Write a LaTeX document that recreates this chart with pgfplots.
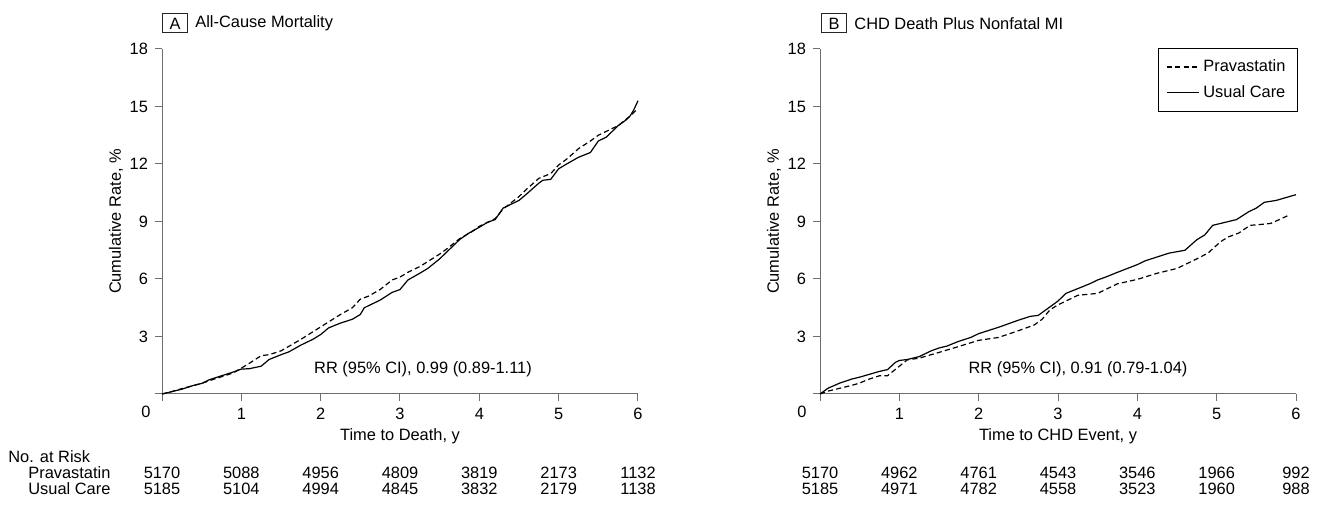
\documentclass[border=0pt]{standalone}
\usepackage{fontspec}
\setmainfont{Liberation Sans}
\usepackage{pgfplots}
\pgfplotsset{compat=1.18}
\newcommand{\fs}{\fontsize{8.2}{9.8}\selectfont}
\definecolor{axisgray}{RGB}{110,110,110}

\pgfplotsset{
  kmstyle/.style={
    width=238pt, height=172.5pt, scale only axis,
    anchor=south west,
    xmin=0, xmax=6, ymin=0, ymax=18,
    axis lines*=left,
    axis line style={axisgray, line width=0.5pt, -},
    xtick={0,...,6}, xticklabels={,1,2,3,4,5,6},
    ytick={0,3,...,18}, yticklabels={,3,6,9,12,15,18},
    tick align=outside, major tick length=3.5pt,
    tick style={axisgray, line width=0.5pt},
    tick label style={font=\fs},
    /pgf/number format/assume math mode=true,
    clip=false,
  },
  pravast/.style={black, line width=0.6pt, dash pattern=on 2.6pt off 1.6pt},
  usual/.style={black, line width=0.6pt},
}

\begin{document}
\begin{tikzpicture}
\path[use as bounding box] (0,0) rectangle (660pt,254pt);

% ---------- panel A ----------
\begin{axis}[kmstyle, at={(81pt,57pt)}]
\addplot[pravast] coordinates {
 (0,0) (0.1,0.1) (0.25,0.28) (0.4,0.45) (0.5,0.55) (0.6,0.7) (0.75,0.9) (0.9,1.1)
 (1.0,1.35) (1.1,1.6) (1.25,2.0) (1.35,2.05) (1.5,2.25) (1.75,2.85) (2.0,3.5)
 (2.25,4.15) (2.4,4.5) (2.5,4.95) (2.6,5.1) (2.75,5.45) (2.9,5.95) (3.0,6.1)
 (3.1,6.35) (3.25,6.65) (3.5,7.3) (3.6,7.6) (3.75,8.1) (3.9,8.45) (4.0,8.75)
 (4.1,8.95) (4.2,9.15) (4.3,9.65) (4.5,10.3) (4.6,10.7) (4.75,11.25) (4.9,11.5)
 (5.0,11.95) (5.1,12.25) (5.25,12.8) (5.4,13.2) (5.5,13.5) (5.6,13.7) (5.75,14.0)
 (5.9,14.5) (6.0,14.9)
};
\addplot[usual] coordinates {
 (0,0) (0.1,0.1) (0.25,0.25) (0.4,0.45) (0.5,0.55) (0.6,0.75) (0.75,0.95) (0.9,1.15)
 (1.0,1.3) (1.1,1.32) (1.25,1.45) (1.35,1.8) (1.5,2.05) (1.6,2.2) (1.75,2.55)
 (1.9,2.85) (2.0,3.1) (2.1,3.45) (2.25,3.7) (2.4,3.9) (2.5,4.15) (2.55,4.5)
 (2.75,4.9) (2.9,5.3) (3.0,5.45) (3.1,5.95) (3.25,6.3) (3.35,6.55) (3.5,7.05)
 (3.6,7.45) (3.75,8.05) (3.85,8.35) (4.0,8.7) (4.1,8.95) (4.2,9.1) (4.3,9.7)
 (4.4,9.9) (4.5,10.1) (4.6,10.45) (4.75,11.0) (4.8,11.15) (4.9,11.2) (5.0,11.75)
 (5.1,12.0) (5.25,12.35) (5.4,12.6) (5.5,13.2) (5.6,13.4) (5.75,14.0) (5.85,14.3)
 (5.9,14.5) (5.95,14.85) (6.0,15.3)
};
\end{axis}

% ---------- panel B ----------
\begin{axis}[kmstyle, at={(410pt,57pt)},
  legend style={at={(1.004,1.003)}, anchor=north east, draw=black, line width=0.5pt,
    font=\fs, inner xsep=4pt, inner ysep=3.5pt, row sep=1.5pt, cells={anchor=west}},
  legend image code/.code={\draw[#1] (0pt,0pt) -- (16pt,0pt);},
]
\addplot[pravast] coordinates {
 (0,0) (0.1,0.15) (0.25,0.3) (0.4,0.45) (0.5,0.57) (0.6,0.75) (0.75,0.95) (0.85,0.95)
 (1.0,1.45) (1.1,1.78) (1.25,1.87) (1.5,2.17) (1.75,2.48) (2.0,2.8) (2.25,2.95)
 (2.5,3.3) (2.7,3.6) (2.8,3.9) (2.9,4.4) (3.0,4.65) (3.1,4.85) (3.25,5.15)
 (3.5,5.25) (3.75,5.75) (4.0,5.98) (4.25,6.3) (4.5,6.55) (4.75,7.05) (4.89,7.35)
 (5.05,7.95) (5.15,8.2) (5.28,8.4) (5.42,8.8) (5.52,8.83) (5.68,8.9) (5.79,9.1)
 (5.92,9.35)
};
\addlegendentry{Pravastatin}
\addplot[usual] coordinates {
 (0,0) (0.1,0.3) (0.25,0.57) (0.4,0.78) (0.5,0.88) (0.6,1.0) (0.75,1.18) (0.85,1.27)
 (0.95,1.65) (1.0,1.75) (1.1,1.8) (1.25,1.95) (1.4,2.25) (1.5,2.4) (1.6,2.5)
 (1.75,2.75) (1.9,2.95) (2.0,3.15) (2.25,3.48) (2.5,3.85) (2.65,4.05) (2.75,4.1)
 (2.9,4.55) (3.0,4.85) (3.1,5.25) (3.25,5.5) (3.4,5.75) (3.5,5.95) (3.6,6.1)
 (3.75,6.35) (4.0,6.75) (4.1,6.95) (4.25,7.15) (4.4,7.35) (4.6,7.5) (4.75,8.05)
 (4.85,8.3) (4.95,8.8) (5.1,8.95) (5.25,9.1) (5.4,9.5) (5.5,9.7) (5.6,10.0)
 (5.75,10.1) (6.0,10.4)
};
\addlegendentry{Usual Care}
\end{axis}

% ---------- texts ----------
\begin{scope}[every node/.style={font=\fs, inner sep=0pt}]
% panel titles
\node[draw=black!85, line width=0.5pt, minimum width=12.5pt, minimum height=9.5pt, anchor=west] at (81pt,242.25pt) {A};
\node[anchor=west] at (97.5pt,242.25pt) {All-Cause Mortality};
\node[draw=black!85, line width=0.5pt, minimum width=12.5pt, minimum height=9.5pt, anchor=west] at (410.5pt,242.25pt) {B};
\node[anchor=west] at (427pt,242.25pt) {CHD Death Plus Nonfatal MI};
% corner zeros
\node at (73pt,48pt) {0};
\node at (401pt,48pt) {0};
% axis labels
\node[rotate=90] at (58pt,143.25pt) {Cumulative Rate, \%};
\node[rotate=90] at (387pt,143.25pt) {Cumulative Rate, \%};
\node at (200pt,36pt) {Time to Death, y};
\node at (529pt,36pt) {Time to CHD Event, y};
% RR text
\node at (211.5pt,69.5pt) {RR (95\% CI), 0.99 (0.89-1.11)};
\node at (539pt,69.5pt) {RR (95\% CI), 0.91 (0.79-1.04)};
% number at risk
\node[anchor=west] at (4pt,25.5pt) {No. at Risk};
\node[anchor=west] at (14pt,17.5pt) {Pravastatin};
\node[anchor=west] at (14pt,9.5pt) {Usual Care};
\foreach \v [count=\i from 0] in {5170,5088,4956,4809,3819,2173,1132}
  \node at (81pt+\i*39.667pt,17.5pt) {\v};
\foreach \v [count=\i from 0] in {5185,5104,4994,4845,3832,2179,1138}
  \node at (81pt+\i*39.667pt,9.5pt) {\v};
\foreach \v [count=\i from 0] in {5170,4962,4761,4543,3546,1966,992}
  \node at (410pt+\i*39.667pt,17.5pt) {\v};
\foreach \v [count=\i from 0] in {5185,4971,4782,4558,3523,1960,988}
  \node at (410pt+\i*39.667pt,9.5pt) {\v};
\end{scope}
\end{tikzpicture}
\end{document}
